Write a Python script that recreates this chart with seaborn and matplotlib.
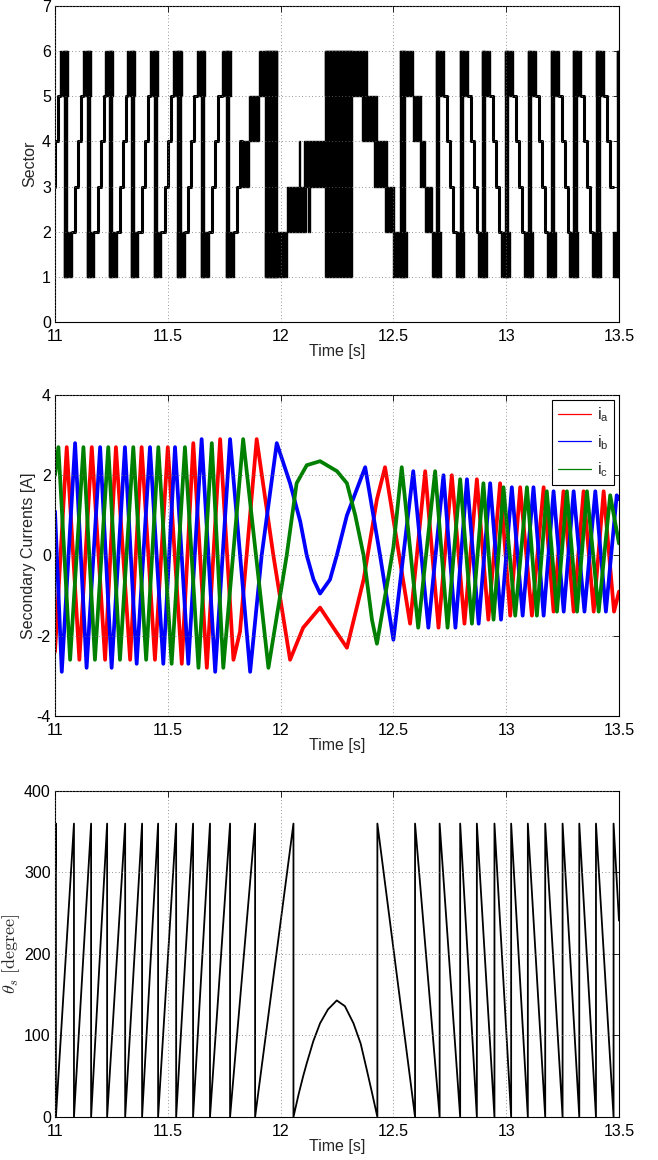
import pandas as pd
import seaborn as sns
import matplotlib
matplotlib.use("Agg")
import matplotlib.pyplot as plt
from matplotlib.lines import Line2D

# ---------------- data ----------------
# Sector: times (s) of the 6<->1 wrap in the regular rising / falling parts
sector_wraps_up = [10.944, 11.044, 11.145, 11.243, 11.340, 11.442, 11.547, 11.651, 11.763]
sector_wraps_down = [12.694, 12.800, 12.898, 13.000, 13.102, 13.204, 13.302, 13.404, 13.496]
# chatter bands around a wrap: offsets (s) from the wrap time
band_offsets = [(-0.022, 0.015), (-0.005, 0.010), (-0.005, 0.030)]
bands_up = [(5, 6), (1, 6), (1, 2)]
bands_down = [(1, 2), (1, 6), (5, 6)]
# staircase after each wrap
stair_offsets = [0.030, 0.044, 0.057, 0.070]
stair_up = [2, 3, 4, 5]
stair_down = [5, 4, 3, 2]
# irregular part around the speed reversal: (t0, t1, low sector, high sector)
sector_mid = [
    (11.830, 11.862, 3, 4), (11.860, 11.905, 4, 5), (11.905, 11.985, 5, 6),
    (11.930, 11.985, 1, 6), (11.930, 12.028, 1, 2), (12.028, 12.113, 2, 3),
    (12.080, 12.084, 3, 4), (12.122, 12.131, 2, 3), (12.104, 12.197, 3, 4),
    (12.197, 12.317, 1, 6), (12.197, 12.384, 5, 6), (12.361, 12.428, 4, 5),
    (12.415, 12.472, 3, 4), (12.463, 12.503, 2, 3), (12.499, 12.561, 1, 2),
    (12.530, 12.552, 1, 6), (12.530, 12.588, 5, 6), (12.585, 12.622, 4, 5),
    (12.620, 12.642, 3, 4), (12.640, 12.672, 2, 3),
]

# Secondary currents: extrema and a few points on the slow part (t, value) of each phase
ia_t = [11.000, 11.052, 11.108, 11.163, 11.222, 11.270, 11.333, 11.384, 11.443, 11.500,
        11.562, 11.613, 11.673, 11.732, 11.791, 11.820, 11.894, 11.968, 12.042, 12.100,
        12.175, 12.234, 12.294, 12.368, 12.427, 12.463, 12.574, 12.641, 12.700, 12.759,
        12.815, 12.870, 12.921, 12.973, 13.018, 13.062, 13.114, 13.166, 13.210, 13.254,
        13.299, 13.343, 13.388, 13.432, 13.478, 13.500]
ia_v = [-2.4, 2.7, -2.6, 2.7, -2.6, 2.7, -2.6, 2.7, -2.6, 2.7,
        -2.7, 2.8, -2.8, 2.9, -2.6, -1.9, 2.9, 0.0, -2.6, -1.8,
        -1.3, -1.8, -2.3, -0.6, 1.4, 2.2, -1.7, 2.1, -1.8, 2.0,
        -1.7, 1.9, -1.6, 1.8, -1.5, 1.7, -1.5, 1.7, -1.4, 1.6,
        -1.4, 1.6, -1.4, 1.6, -1.4, -0.9]
ib_t = [11.000, 11.030, 11.089, 11.140, 11.200, 11.251, 11.310, 11.362, 11.421, 11.480,
        11.532, 11.591, 11.650, 11.710, 11.776, 11.865, 11.916, 11.983, 12.042, 12.087,
        12.116, 12.146, 12.175, 12.219, 12.249, 12.294, 12.375, 12.441, 12.500, 12.588,
        12.655, 12.722, 12.775, 12.826, 12.878, 12.929, 12.977, 13.025, 13.073, 13.121,
        13.166, 13.210, 13.255, 13.299, 13.347, 13.395, 13.442, 13.490, 13.500]
ib_v = [1.1, -2.9, 2.8, -2.8, 2.7, -2.8, 2.7, -2.7, 2.7, -2.7,
        2.7, -2.7, 2.9, -2.9, 2.9, -2.9, 0.0, 2.8, 1.8, 0.85,
        0.0, -0.6, -0.95, -0.6, 0.0, 1.0, 2.2, 0.0, -2.1, 2.1,
        -1.8, 2.0, -1.8, 1.9, -1.7, 1.8, -1.6, 1.7, -1.5, 1.7,
        -1.5, 1.6, -1.4, 1.6, -1.4, 1.6, -1.4, 1.5, 1.4]
ic_t = [11.000, 11.015, 11.067, 11.126, 11.177, 11.236, 11.288, 11.347, 11.404, 11.458,
        11.517, 11.576, 11.636, 11.695, 11.746, 11.834, 11.946, 12.027, 12.071, 12.116,
        12.175, 12.250, 12.294, 12.331, 12.368, 12.405, 12.427, 12.500, 12.537, 12.610,
        12.685, 12.740, 12.796, 12.848, 12.899, 12.944, 12.988, 13.040, 13.092, 13.136,
        13.180, 13.225, 13.269, 13.314, 13.358, 13.410, 13.461, 13.500]
ic_v = [2.0, 2.7, -2.6, 2.7, -2.6, 2.7, -2.6, 2.7, -2.6, 2.7,
        -2.7, 2.7, -2.8, 2.8, -2.8, 2.9, -2.8, 0.0, 1.8, 2.25,
        2.35, 2.1, 1.8, 1.0, 0.0, -1.6, -2.2, 0.2, 2.2, -1.8,
        2.1, -1.8, 1.9, -1.7, 1.8, -1.6, 1.7, -1.5, 1.7, -1.5,
        1.6, -1.4, 1.6, -1.4, 1.6, -1.4, 1.5, 0.3]
phase_labels = [r"$\mathregular{i_a}$", r"$\mathregular{i_b}$", r"$\mathregular{i_c}$"]
phase_colors = ["#ff0000", "#0000ff", "#008000"]

# theta_s: wrap instants of the sawtooth, and the slow arch in between
theta_start = (11.000, 290)
theta_wraps_up = [11.004, 11.084, 11.160, 11.231, 11.311, 11.386, 11.457, 11.537,
                  11.612, 11.687, 11.776, 11.887, 12.057]
theta_arch_t = [12.057, 12.080, 12.100, 12.116, 12.145, 12.175, 12.210, 12.249,
                12.285, 12.323, 12.355, 12.382, 12.405, 12.429]
theta_arch_v = [0, 28, 50, 66, 93, 115, 132, 143, 136, 115, 90, 58, 30, 0]
theta_wraps_down = [12.429, 12.596, 12.705, 12.796, 12.870, 12.948, 13.022, 13.096,
                    13.173, 13.250, 13.324, 13.398, 13.476]
theta_end = (13.500, 241)

x_ticks = [11, 11.5, 12, 12.5, 13, 13.5]
x_ticklabels = ["11", "11.5", "12", "12.5", "13", "13.5"]


# ---------------- assemble tables ----------------
def sector_tables():
    blocks = []
    stairs = []
    cyc = 0
    for wraps, bands, levels, last_end in [
        (sector_wraps_up, bands_up, stair_up, sector_mid[0][0]),
        (sector_wraps_down, bands_down, stair_down, 13.6),
    ]:
        for k, w in enumerate(wraps):
            for (o0, o1), (lo, hi) in zip(band_offsets, bands):
                blocks.append((w + o0, w + o1, lo, hi))
            end = wraps[k + 1] + band_offsets[0][0] if k + 1 < len(wraps) else last_end
            ts = [w + o for o in stair_offsets if w + o < end]
            ys = levels[:len(ts)]
            for t, y in zip(ts + [end], ys + [ys[-1]]):
                stairs.append({"t": t, "sector": y, "cycle": cyc})
            cyc += 1
    blocks += sector_mid
    return pd.DataFrame(blocks, columns=["t0", "t1", "lo", "hi"]), pd.DataFrame(stairs)


blocks_df, stairs_df = sector_tables()

cur_df = pd.concat([
    pd.DataFrame({"t": ia_t, "i": ia_v, "phase": "ia"}),
    pd.DataFrame({"t": ib_t, "i": ib_v, "phase": "ib"}),
    pd.DataFrame({"t": ic_t, "i": ic_v, "phase": "ic"}),
], ignore_index=True)

# theta series: rising ramps, arch, falling ramps
th_t = [theta_start[0]]
th_v = [theta_start[1]]
for w in theta_wraps_up[:-1]:
    th_t += [w, w]
    th_v += [360, 0]
th_t += [theta_wraps_up[-1], theta_wraps_up[-1]]
th_v += [360, 0]
th_t += theta_arch_t[1:]
th_v += theta_arch_v[1:]
th_t += [theta_wraps_down[0]]
th_v += [360]
for w in theta_wraps_down[1:]:
    th_t += [w, w]
    th_v += [0, 360]
th_t += [theta_end[0]]
th_v += [theta_end[1]]
theta_df = pd.DataFrame({"t": th_t, "theta": th_v, "seg": 0})

# ---------------- style ----------------
sns.set_style("white")
plt.rcParams["font.family"] = ["Liberation Sans", "DejaVu Sans"]
plt.rcParams.update({
    "mathtext.fontset": "cm",
    "font.size": 11.5,
    "xtick.direction": "in", "ytick.direction": "in",
    "xtick.top": True, "ytick.right": True,
    "xtick.major.size": 4, "ytick.major.size": 4,
    "xtick.major.width": 0.6, "ytick.major.width": 0.6,
    "axes.edgecolor": "black", "axes.linewidth": 0.8,
    "xtick.color": "black", "ytick.color": "black",
})

fig = plt.figure(figsize=(6.58, 11.6), dpi=100)
ax1 = fig.add_axes([0.0836, 0.7224, 0.8571, 0.2724])
ax2 = fig.add_axes([0.0836, 0.3828, 0.8571, 0.2767])
ax3 = fig.add_axes([0.0836, 0.0371, 0.8571, 0.2810])


def matlab_axes(ax, yticks, ylabel, ylabel_size=11.5, ylabel_pad=3):
    ax.set_xlim(11, 13.5)
    ax.set_xticks(x_ticks)
    ax.set_xticklabels(x_ticklabels)
    ax.set_ylim(yticks[0], yticks[-1])
    ax.set_yticks(yticks)
    ax.set_yticklabels([str(y) for y in yticks])
    ax.grid(True, linestyle=(0, (1, 3)), color="0.45", linewidth=0.6)
    ax.set_axisbelow(False)
    ax.set_xlabel("Time [s]", labelpad=0, fontsize=11.5)
    ax.set_ylabel(ylabel, fontsize=ylabel_size, labelpad=ylabel_pad)
    ax.tick_params(axis="x", labelsize=11.5, pad=5)
    ax.tick_params(axis="y", labelsize=11.5, pad=3)
    for s in ax.spines.values():
        s.set_visible(True)
        s.set_color("black")


# --- sector ---
for row in blocks_df.itertuples():
    ax1.fill_between([row.t0, row.t1], row.lo, row.hi, color="black", linewidth=1.0)
sns.lineplot(data=stairs_df, x="t", y="sector", units="cycle", estimator=None, sort=False,
             color="black", linewidth=2.2, drawstyle="steps-post", ax=ax1)
matlab_axes(ax1, [0, 1, 2, 3, 4, 5, 6, 7], "Sector")

# --- currents ---
sns.lineplot(data=cur_df, x="t", y="i", hue="phase", hue_order=["ia", "ib", "ic"],
             palette=dict(zip(["ia", "ib", "ic"], phase_colors)), estimator=None, sort=False,
             linewidth=2.7, legend=False, ax=ax2)
matlab_axes(ax2, [-4, -2, 0, 2, 4], "Secondary Currents [A]", ylabel_pad=0)
handles = [Line2D([], [], color=c, lw=0.9) for c in phase_colors]
leg = ax2.legend(handles, phase_labels, loc="upper right", fancybox=False, framealpha=1,
                 edgecolor="black", handlelength=2.1, handletextpad=0.35, borderpad=0.35,
                 borderaxespad=0.3, fontsize=11.5, labelspacing=0.55)
leg.get_frame().set_linewidth(0.8)

# --- theta ---
sns.lineplot(data=theta_df, x="t", y="theta", units="seg", estimator=None, sort=False,
             color="black", linewidth=1.3, ax=ax3)
matlab_axes(ax3, [0, 100, 200, 300, 400], r"$\theta_s\ [\mathrm{degree}]$",
            ylabel_size=13, ylabel_pad=1.5)

fig.savefig("out.png", dpi=100)
